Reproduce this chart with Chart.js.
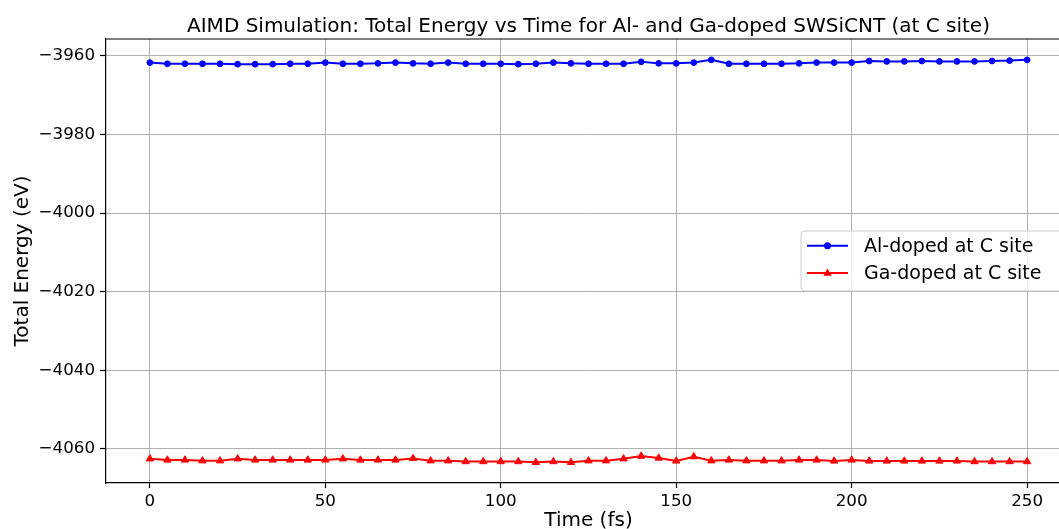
<!DOCTYPE html>
<html>
<head>
<meta charset="utf-8">
<script src="https://cdn.jsdelivr.net/npm/chart.js@4.4.0/dist/chart.umd.min.js"></script>
<style>
    html, body { margin: 0; padding: 0; background: #fff; overflow: hidden; }
    #wrap { width: 1176px; height: 545px; }
</style>
</head>
<body>
<div id="wrap"><canvas id="energyChart" width="1176" height="545"></canvas></div>
<script>
const chartTitle = 'AIMD Simulation: Total Energy vs Time for Al- and Ga-doped SWSiCNT (at C site)';
const seriesLabels = ['Al-doped at C site', 'Ga-doped at C site'];

const timeFs = [
    0, 5, 10, 15, 20, 25, 30, 35, 40, 45,
    50, 55, 60, 65, 70, 75, 80, 85, 90, 95,
    100, 105, 110, 115, 120, 125, 130, 135, 140, 145,
    150, 155, 160, 165, 170, 175, 180, 185, 190, 195,
    200, 205, 210, 215, 220, 225, 230, 235, 240, 245,
    250
];

const alDopedEnergy = [
    -3961.7, -3962.0, -3962.0, -3962.0, -3962.0, -3962.1, -3962.1, -3962.1, -3962.0, -3962.0,
    -3961.7, -3962.0, -3962.0, -3961.9, -3961.7, -3961.9, -3962.0, -3961.7, -3962.0, -3962.0,
    -3962.0, -3962.1, -3962.0, -3961.7, -3961.9, -3962.0, -3962.0, -3962.0, -3961.5, -3961.9,
    -3961.9, -3961.7, -3961.0, -3962.0, -3962.0, -3962.0, -3962.0, -3961.9, -3961.7, -3961.7,
    -3961.7, -3961.3, -3961.4, -3961.4, -3961.3, -3961.4, -3961.4, -3961.4, -3961.3, -3961.2,
    -3961.0
];

const gaDopedEnergy = [
    -4062.5, -4062.8, -4062.8, -4063.0, -4063.0, -4062.5, -4062.8, -4062.8, -4062.8, -4062.8,
    -4062.8, -4062.5, -4062.8, -4062.8, -4062.8, -4062.4, -4063.0, -4063.0, -4063.2, -4063.2,
    -4063.2, -4063.2, -4063.4, -4063.2, -4063.4, -4063.0, -4063.0, -4062.5, -4061.8, -4062.3,
    -4063.05, -4061.95, -4063.0, -4062.8, -4063.0, -4063.0, -4063.0, -4062.8, -4062.8, -4063.05,
    -4062.8, -4063.05, -4063.05, -4063.05, -4063.05, -4063.05, -4063.05, -4063.2, -4063.2, -4063.2,
    -4063.2
];

const xTicks = [0, 50, 100, 150, 200, 250];
const yTicks = [-3960, -3980, -4000, -4020, -4040, -4060];

Chart.defaults.font.family = "'DejaVu Sans', sans-serif";
Chart.defaults.color = '#000';

const toPoints = (xs, ys) => xs.map((x, i) => ({ x: x, y: ys[i] }));

// title centred over the axes, not the canvas (matplotlib style)
const axesTitle = {
    id: 'axesTitle',
    afterDraw(chart) {
        const { ctx, chartArea: a } = chart;
        ctx.save();
        ctx.fillStyle = '#000';
        ctx.font = "20px 'DejaVu Sans', sans-serif";
        ctx.textAlign = 'center';
        ctx.textBaseline = 'alphabetic';
        ctx.fillText(chartTitle, (a.left + a.right) / 2, 32);
        ctx.restore();
    }
};

// top / right spines
const framePlugin = {
    id: 'frame',
    afterDraw(chart) {
        const { ctx, chartArea: a } = chart;
        ctx.save();
        ctx.strokeStyle = '#000';
        ctx.lineWidth = 1.2;
        ctx.beginPath();
        ctx.moveTo(a.left, a.top);
        ctx.lineTo(a.right, a.top);
        ctx.lineTo(a.right, a.bottom);
        ctx.stroke();
        ctx.restore();
    }
};

// legend box sitting at "center right" inside the axes
const boxLegend = {
    id: 'boxLegend',
    afterDraw(chart) {
        const { ctx, chartArea: a } = chart;
        const w = 262, h = 60;
        const x = a.right - 8 - w;
        const y = (a.top + a.bottom) / 2 - h / 2;

        ctx.save();
        ctx.beginPath();
        ctx.roundRect(x, y, w, h, 4);
        ctx.fillStyle = 'rgba(255,255,255,0.8)';
        ctx.fill();
        ctx.strokeStyle = '#cccccc';
        ctx.lineWidth = 1;
        ctx.stroke();

        chart.data.datasets.forEach((ds, i) => {
            const ly = y + 14.7 + i * 27.3;
            const mx = x + 26.5;
            ctx.strokeStyle = ds.borderColor;
            ctx.fillStyle = ds.borderColor;
            ctx.lineWidth = 2;
            ctx.beginPath();
            ctx.moveTo(x + 6, ly);
            ctx.lineTo(x + 47, ly);
            ctx.stroke();

            ctx.beginPath();
            if (ds.pointStyle === 'triangle') {
                ctx.moveTo(mx, ly - 4.5);
                ctx.lineTo(mx + 4.2, ly + 2.8);
                ctx.lineTo(mx - 4.2, ly + 2.8);
                ctx.closePath();
            } else {
                ctx.arc(mx, ly, 3.5, 0, Math.PI * 2);
            }
            ctx.fill();

            ctx.fillStyle = '#000';
            ctx.font = "19px 'DejaVu Sans', sans-serif";
            ctx.textBaseline = 'middle';
            ctx.textAlign = 'left';
            ctx.fillText(ds.label, x + 63, ly + 1);
        });
        ctx.restore();
    }
};

const ctx = document.getElementById('energyChart').getContext('2d');
new Chart(ctx, {
    type: 'line',
    data: {
        datasets: [
            {
                label: seriesLabels[0],
                data: toPoints(timeFs, alDopedEnergy),
                borderColor: '#0000ff',
                backgroundColor: '#0000ff',
                pointBackgroundColor: '#0000ff',
                pointBorderColor: '#0000ff',
                pointStyle: 'circle',
                pointRadius: 2.9,
                pointBorderWidth: 1,
                borderWidth: 2,
                tension: 0
            },
            {
                label: seriesLabels[1],
                data: toPoints(timeFs, gaDopedEnergy),
                borderColor: '#ff0000',
                backgroundColor: '#ff0000',
                pointBackgroundColor: '#ff0000',
                pointBorderColor: '#ff0000',
                pointStyle: 'triangle',
                pointRadius: 4.2,
                pointBorderWidth: 1,
                borderWidth: 2,
                tension: 0
            }
        ]
    },
    options: {
        responsive: false,
        animation: false,
        layout: { padding: { left: 0, right: 105, top: 39, bottom: 0 } },
        plugins: {
            legend: { display: false },
            tooltip: { enabled: false },
            title: { display: false }
        },
        scales: {
            x: {
                type: 'linear',
                min: -12.5,
                max: 262.5,
                afterFit: scale => { scale.height = 62; },
                afterBuildTicks: scale => { scale.ticks = xTicks.map(v => ({ value: v })); },
                ticks: { font: { size: 16.7 }, color: '#000', padding: 4, maxRotation: 0 },
                grid: { color: '#b0b0b0', lineWidth: 1, tickColor: '#000', tickLength: 5, tickWidth: 1.2 },
                border: { display: true, color: '#000', width: 1.2 },
                title: {
                    display: true,
                    text: 'Time (fs)',
                    color: '#000',
                    font: { size: 20 },
                    padding: { top: 0, bottom: 12 }
                }
            },
            y: {
                type: 'linear',
                min: -4068.65,
                max: -3955.7,
                afterFit: scale => { scale.width = 106; },
                afterBuildTicks: scale => { scale.ticks = yTicks.map(v => ({ value: v })); },
                ticks: {
                    font: { size: 16.7 },
                    color: '#000',
                    padding: 5,
                    callback: v => String(v).replace('-', '\u2212')
                },
                grid: { color: '#b0b0b0', lineWidth: 1, tickColor: '#000', tickLength: 6, tickWidth: 1.2 },
                border: { display: true, color: '#000', width: 1.2 },
                title: {
                    display: true,
                    text: 'Total Energy (eV)',
                    color: '#000',
                    font: { size: 20 },
                    padding: { top: 10.7, bottom: 0 }
                }
            }
        }
    },
    plugins: [axesTitle, framePlugin, boxLegend]
});
</script>
</body>
</html>
